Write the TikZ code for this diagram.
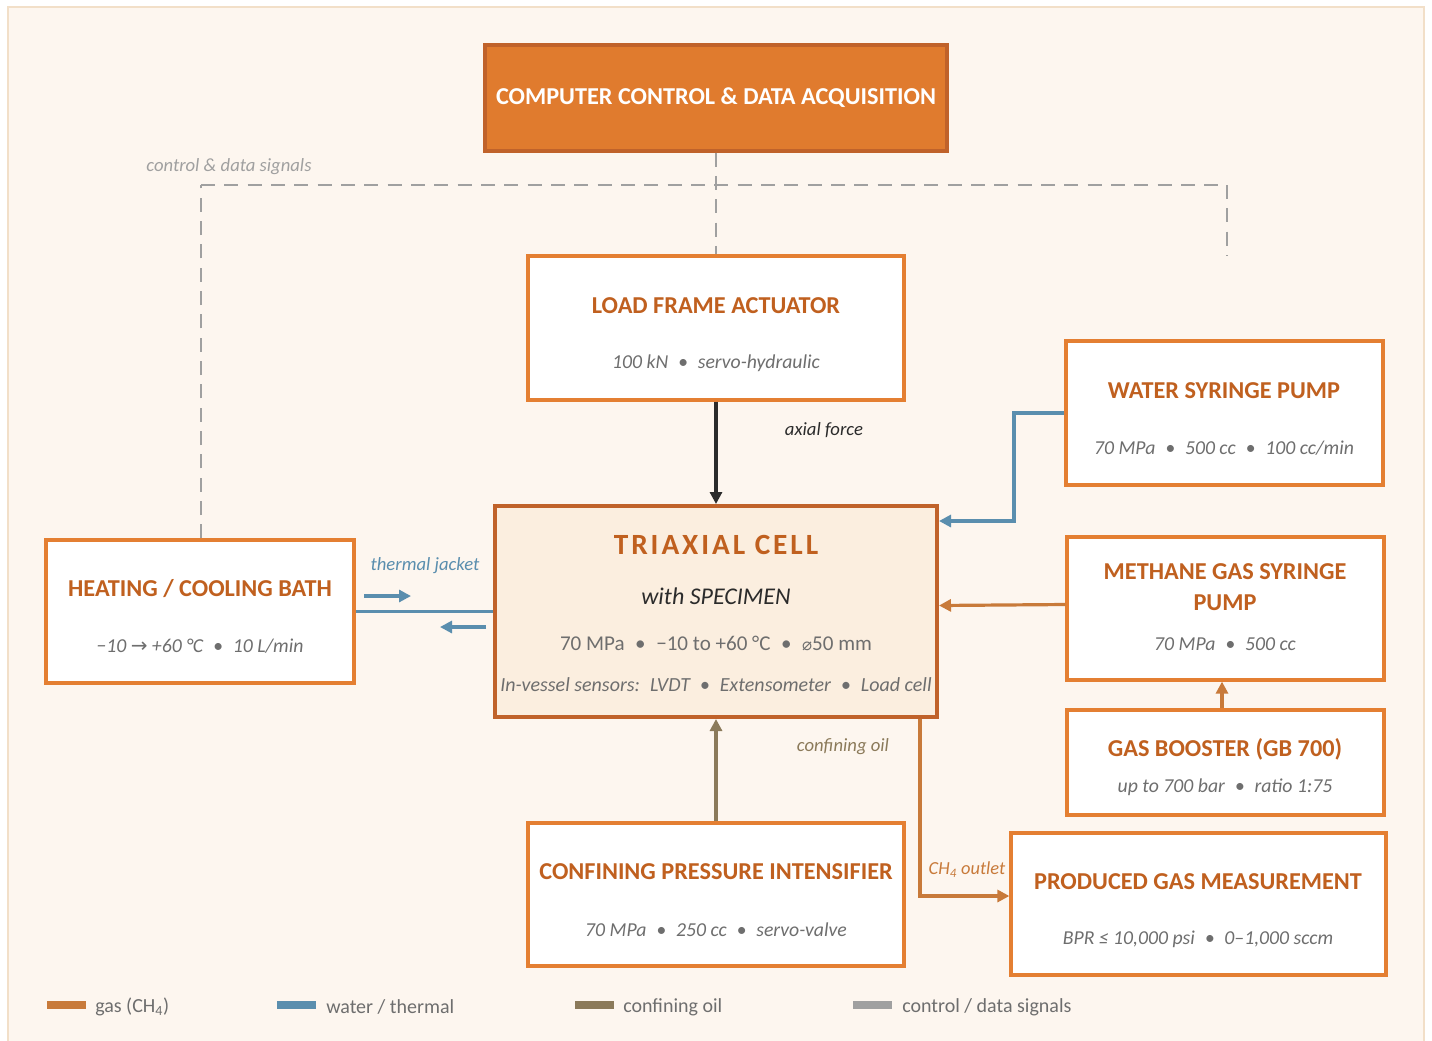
\documentclass[tikz,border=0pt]{standalone}
\usepackage{fontspec}
\setmainfont{Carlito}
\newfontfamily\sym{DejaVu Sans}
\usetikzlibrary{arrows.meta,fit,calc}
\definecolor{bg}{HTML}{FDF6EF}
\definecolor{bgline}{HTML}{F2DFC8}
\definecolor{boxline}{HTML}{E47F32}
\definecolor{headtxt}{HTML}{C0601F}
\definecolor{subtxt}{HTML}{6E6E6E}
\definecolor{compfill}{HTML}{E07B2E}
\definecolor{compline}{HTML}{C0622A}
\definecolor{cellfill}{HTML}{FBEEDF}
\definecolor{gas}{HTML}{C87A3A}
\definecolor{water}{HTML}{5A8EAE}
\definecolor{oil}{HTML}{8B7A5A}
\definecolor{ctrl}{HTML}{A0A0A0}
\definecolor{axial}{HTML}{2B2B2B}
\newcommand{\fs}[1]{\fontsize{#1}{1.2\dimexpr #1\relax}\selectfont}
\newcommand{\bul}{\enspace•\enspace}
\tikzset{
  unitbox/.style={draw=boxline, line width=2.4pt, fill=white, inner sep=0pt},
  headtext/.style={text=headtxt, font=\fs{18.2pt}\bfseries, inner sep=0pt},
  subtext/.style={text=subtxt, font=\fs{14.8pt}\itshape, inner sep=0pt},
  lbl/.style={font=\fs{14pt}\itshape, inner sep=0pt},
  flow/.style={line width=2.4pt},
  tip/.style={-{Triangle[length=9pt,width=9pt]}},
  ctrlline/.style={draw=ctrl, line width=2.2pt, dash pattern=on 10.5pt off 7pt},
  legsw/.style={minimum width=29pt, minimum height=5.5pt, inner sep=0pt},
  legtext/.style={text=subtxt, font=\fs{15pt}, inner sep=0pt, anchor=west}
}
\begin{document}
\begin{tikzpicture}[x=0.75pt,y=-0.75pt]
\useasboundingbox (0,0) rectangle (1432,1040);
\fill[bg] (8,7) rectangle (1424,1045);
\draw[bgline, line width=1.2pt] (8,1045) -- (8,7) -- (1424,7) -- (1424,1045);

% boxes
\node[draw=compline, line width=2.4pt, fill=compfill, inner sep=0pt, fit={(485,45)(947,151)}] (comp) {};
\node[text=white, font=\fs{18.2pt}\bfseries, inner sep=0pt] (comptxt) at (716,98) {COMPUTER CONTROL \& DATA ACQUISITION};

\node[unitbox, fit={(528,256)(904,400)}] (load) {};
\node[headtext] (loadh) at (716,306) {LOAD FRAME ACTUATOR};
\node[subtext] (loads) at (716,363) {100 kN\bul servo-hydraulic};

\node[unitbox, fit={(1066,341)(1383,485)}] (water) {};
\node[headtext] (waterh) at (1224,391) {WATER SYRINGE PUMP};
\node[subtext] (waters) at (1224,448) {70 MPa\bul 500 cc\bul 100 cc/min};

\node[draw=compline, line width=3pt, fill=cellfill, inner sep=0pt, fit={(495,506)(937,717)}] (cell) {};
\node[text=headtxt, font=\fs{22pt}\bfseries\addfontfeature{LetterSpace=10}, inner sep=0pt] (cellh) at (716,545) {TRIAXIAL CELL};
\node[text=axial, font=\fs{18pt}\itshape, inner sep=0pt] (cellw) at (716,596) {with SPECIMEN};
\node[text=subtxt, font=\fs{15.8pt}, inner sep=0pt] (cells) at (716,643) {70 MPa\bul −10 to +60 °C\bul {\sym\fontsize{12.5pt}{14pt}\selectfont ⌀}50 mm};
\node[subtext, font=\fs{15pt}\itshape] (cellv) at (716,685) {In-vessel sensors:\enspace LVDT\bul Extensometer\bul Load cell};

\node[unitbox, fit={(46,540)(354,683)}] (bath) {};
\node[headtext] (bathh) at (200,589) {HEATING / COOLING BATH};
\node[subtext] (baths) at (200,646) {−10 {\sym\fontsize{15pt}{16pt}\selectfont →} +60 °C\bul 10 L/min};

\node[unitbox, fit={(1067,537)(1384,680)}] (meth) {};
\node[headtext, align=center] (methh) at (1225,587) {METHANE GAS SYRINGE\\[1pt]PUMP};
\node[subtext] (meths) at (1225,644) {70 MPa\bul 500 cc};

\node[unitbox, fit={(1067,710)(1384,815)}] (boost) {};
\node[headtext] (boosth) at (1225,749) {GAS BOOSTER (GB 700)};
\node[subtext] (boosts) at (1225,787) {up to 700 bar\bul ratio 1:75};

\node[unitbox, fit={(1011,833)(1386,975)}] (prod) {};
\node[headtext] (prodh) at (1198,882) {PRODUCED GAS MEASUREMENT};
\node[subtext] (prods) at (1198,939) {BPR ≤ 10,000 psi\bul 0–1,000 sccm};

\node[unitbox, fit={(528,823)(904,966)}] (conf) {};
\node[headtext] (confh) at (716,872) {CONFINING PRESSURE INTENSIFIER};
\node[subtext] (confs) at (716,930) {70 MPa\bul 250 cc\bul servo-valve};

% control signals
\coordinate (cl) at (201,185);
\coordinate (cr) at (1227,185);
\coordinate (crend) at (1227,256);
\draw[ctrlline] (comp.south) -- (load.north);
\draw[ctrlline] (cl) -- (cr);
\draw[ctrlline] (bath.north -| cl) -- (cl);
\draw[ctrlline] (cr) -- (crend);
\node[lbl, text=ctrl] (ctrllbl) at (229,167) {control \& data signals};

% axial force
\draw[flow, axial, tip] (load.south) -- (cell.north);
\node[lbl, text=axial] (axlbl) at (824,430) {axial force};

% water
\coordinate (wbend) at (1014,413);
\draw[flow, water, tip] (water.west) -- (wbend) |- ($(cell.north east)+(0,17)$);

% methane
\draw[flow, gas, tip] ($(meth.west)+(0,-4)$) -- ($(meth.west -| cell.east)+(0,-3)$);
\draw[flow, gas, tip] (boost.north -| 1222,0) -- (meth.south -| 1222,0);

% oil
\draw[flow, oil, tip] (conf.north) -- (cell.south);
\node[lbl, text=oil] (oillbl) at (843,747) {confining oil};

% CH4 outlet
\draw[flow, gas, tip] ($(cell.south east)+(-19,0)$) |- ($(prod.west)+(0,-8)$);
\node[lbl, text=gas, font=\fs{13.8pt}\itshape] (outlbl) at (967,870) {CH\textsubscript{4} outlet};

% thermal
\draw[flow, water] (bath.east) -- (cell.west);
\coordinate (ta1) at (364,596); \coordinate (ta2) at (411,596);
\coordinate (tb1) at (486,627); \coordinate (tb2) at (440,627);
\draw[flow, water, -{Triangle[length=9pt,width=9pt]}] (ta1) -- (ta2);
\draw[flow, water, -{Triangle[length=9pt,width=9pt]}] (tb1) -- (tb2);
\node[lbl, text=water] (thlbl) at (425,566) {thermal jacket};

% legend
\node[legsw, fill=gas] (lg1) at (66.5,1005) {};
\node[legtext] (lt1) at (95,1007) {gas (CH\textsubscript{4})};
\node[legsw, fill=water] (lg2) at (296.5,1005) {};
\node[legtext] (lt2) at (326,1007) {water / thermal};
\node[legsw, fill=oil] (lg3) at (594.5,1005) {};
\node[legtext] (lt3) at (623,1007) {confining oil};
\node[legsw, fill=ctrl] (lg4) at (872.5,1005) {};
\node[legtext] (lt4) at (902,1007) {control / data signals};
\end{tikzpicture}
\end{document}
